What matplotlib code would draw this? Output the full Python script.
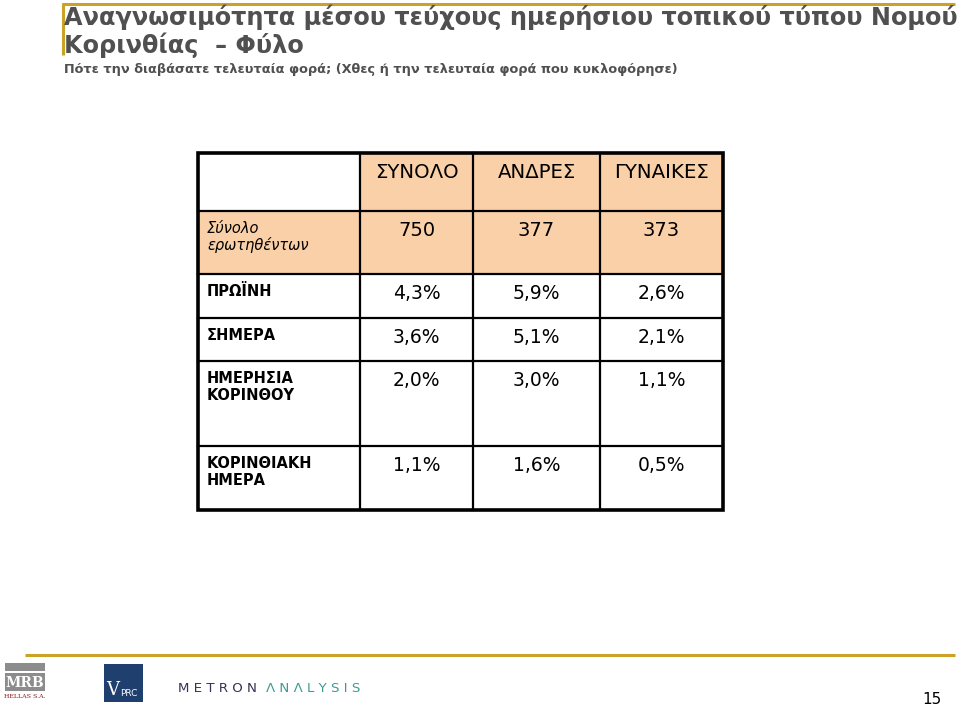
import matplotlib
matplotlib.use("Agg")
import matplotlib.pyplot as plt
from matplotlib.patches import Rectangle

plt.rcParams['font.family'] = ['DejaVu Sans']

# ---------------- data ----------------
title_lines = ["Αναγνωσιμότητα μέσου τεύχους ημερήσιου τοπικού τύπου Νομού",
               "Κορινθίας  – Φύλο"]
subtitle = "Πότε την διαβάσατε τελευταία φορά; (Χθες ή την τελευταία φορά που κυκλοφόρησε)"
columns = ["ΣΥΝΟΛΟ", "ΑΝΔΡΕΣ", "ΓΥΝΑΙΚΕΣ"]
base_label = "Σύνολο\nερωτηθέντων"
base_n = [750, 377, 373]
row_labels = ["ΠΡΩΪΝΗ", "ΣΗΜΕΡΑ", "ΗΜΕΡΗΣΙΑ\nΚΟΡΙΝΘΟΥ", "ΚΟΡΙΝΘΙΑΚΗ\nΗΜΕΡΑ"]
total = [4.3, 3.6, 2.0, 1.1]
men = [5.9, 5.1, 3.0, 1.6]
women = [2.6, 2.1, 1.1, 0.5]
page_number = "15"

# ---------------- layout ----------------
W, H = 960, 706
fig = plt.figure(figsize=(W / 100, H / 100), dpi=100)
ax = fig.add_axes([0, 0, 1, 1])
ax.set_xlim(0, W)
ax.set_ylim(H, 0)
ax.axis("off")

gold = "#C9A227"
peach = "#FAD0A8"
gray_title = "#505050"

# title decorations
ax.plot([62, 955], [3.5, 3.5], color=gold, lw=2.2, solid_capstyle="butt")
ax.plot([62.5, 62.5], [3, 55], color=gold, lw=2.2, solid_capstyle="butt")
ax.text(64, 17, title_lines[0], fontsize=17.3, fontweight="bold", color=gray_title,
        va="center", ha="left")
ax.text(64, 45, title_lines[1], fontsize=17.3, fontweight="bold", color=gray_title,
        va="center", ha="left")
ax.text(64, 70, subtitle, fontsize=9.3, fontweight="bold", color=gray_title,
        va="center", ha="left")

# table geometry
col_edges = [198, 360, 473, 600, 723]
row_edges = [153, 211, 274, 318, 361, 446, 510]

# fills
for c in range(1, 4):
    ax.add_patch(Rectangle((col_edges[c], row_edges[0]), col_edges[c + 1] - col_edges[c],
                           row_edges[1] - row_edges[0], facecolor=peach, edgecolor="none"))
ax.add_patch(Rectangle((col_edges[0], row_edges[1]), col_edges[-1] - col_edges[0],
                       row_edges[2] - row_edges[1], facecolor=peach, edgecolor="none"))

# grid lines
for x in col_edges[1:-1]:
    ax.plot([x, x], [row_edges[0], row_edges[-1]], color="black", lw=1.6)
for y in row_edges[1:-1]:
    ax.plot([col_edges[0], col_edges[-1]], [y, y], color="black", lw=1.6)
ax.add_patch(Rectangle((col_edges[0], row_edges[0]), col_edges[-1] - col_edges[0],
                       row_edges[-1] - row_edges[0], facecolor="none",
                       edgecolor="black", lw=2.6))

def cx(c):
    return (col_edges[c] + col_edges[c + 1]) / 2

# header
for i, name in enumerate(columns):
    ax.text(cx(i + 1), row_edges[0] + 10, name, fontsize=14.2, ha="center", va="top",
            color="black")

# base row
ax.text(col_edges[0] + 9, row_edges[1] + 10, base_label, fontsize=10.5, style="italic",
        ha="left", va="top", linespacing=1.05)
for i, n in enumerate(base_n):
    ax.text(cx(i + 1), row_edges[1] + 10, str(n), fontsize=14, ha="center", va="top")

def fmt(v):
    return f"{v:.1f}".replace(".", ",") + "%"

series = [total, men, women]
for r, lab in enumerate(row_labels):
    top = row_edges[r + 2]
    ax.text(col_edges[0] + 9, top + 10, lab, fontsize=10.5, fontweight="bold",
            ha="left", va="top", linespacing=1.2)
    for c, s in enumerate(series):
        ax.text(cx(c + 1), top + 10, fmt(s[r]), fontsize=13.5, ha="center", va="top")

# footer
ax.plot([25, 955], [655, 655], color=gold, lw=2.2, solid_capstyle="butt")
# MRB logo
ax.add_patch(Rectangle((5, 663), 40, 8, facecolor="#8C8C8C", edgecolor="none"))
ax.add_patch(Rectangle((5, 673), 40, 18, facecolor="#8C8C8C", edgecolor="none"))
ax.text(25, 683, "MRB", fontsize=10, fontweight="bold", family="DejaVu Serif",
        color="white", ha="center", va="center")
ax.text(25, 697, "HELLAS S.A.", fontsize=4.5, family="DejaVu Serif",
        color="#8B1A1A", ha="center", va="center")
# VPRC logo
ax.add_patch(Rectangle((104, 664), 39, 38, facecolor="#1F3F6E", edgecolor="none"))
ax.text(119, 690, "V", fontsize=13, family="DejaVu Serif", color="white",
        ha="right", va="center")
ax.text(120.5, 693, "PRC", fontsize=6.5, color="white", ha="left", va="center")
# METRON ANALYSIS
ax.text(178, 688, "M E T R O N", fontsize=9.6, color="#333355", ha="left", va="center")
ax.text(266, 688, "Λ N Λ L Y S I S", fontsize=9.6, color="#3C9C94", ha="left", va="center")
ax.text(932, 699, page_number, fontsize=11, color="black", ha="center", va="center")

fig.savefig("out.png", dpi=100)
